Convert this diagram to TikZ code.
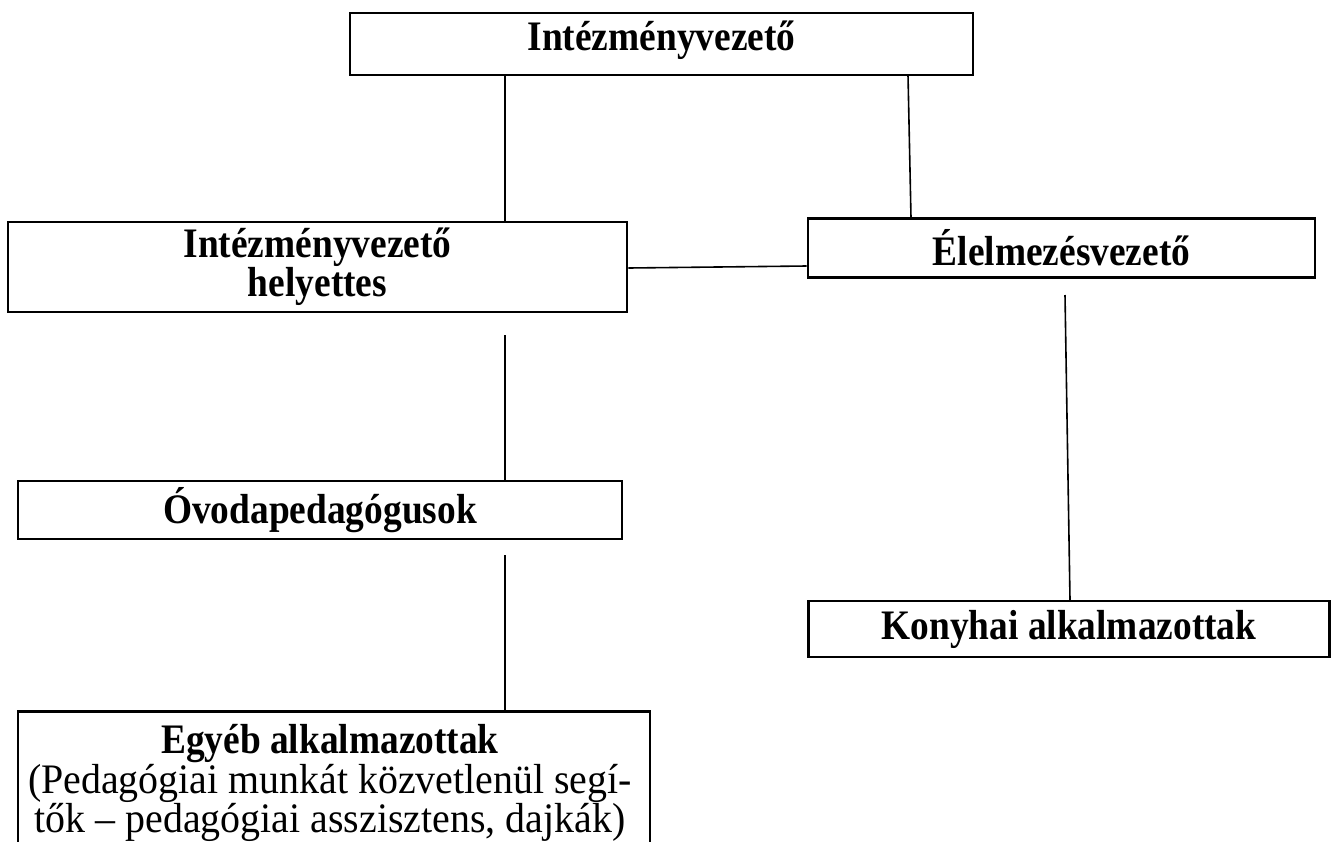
\documentclass[tikz,border=0pt]{standalone}
\usepackage{fontspec}
\setmainfont{Liberation Serif}
\newfontfamily\boldcond[FakeStretch=0.89]{Liberation Serif}
\newfontfamily\regcond[FakeStretch=0.95]{Liberation Serif}
\begin{document}
\begin{tikzpicture}[x=1pt,y=-1pt,
  orgbox/.style={draw, line width=2.8pt, rectangle, inner sep=0pt, align=center,
    font=\boldcond\fontsize{42}{36}\selectfont\bfseries},
  conn/.style={line width=1.6pt},
  plain/.style={inner sep=0pt, align=center, font=\regcond\fontsize{42}{35.5}\selectfont}]
\clip (0,0) rectangle (1335,841);
\fill[white] (0,0) rectangle (1335,841);
% boxes
\node[orgbox, minimum width=623pt, minimum height=62pt] (top) at (661.5,44) {};
\node[orgbox, draw=none] (toptext) at (661.5,40) {Intézményvezető};
\node[orgbox, minimum width=619pt, minimum height=90pt] (hely) at (317.5,267) {Intézményvezető\\helyettes};
\node[orgbox, minimum width=507pt, minimum height=59pt] (elel) at (1061.5,248) {Élelmezésvezető};
\node[orgbox, minimum width=604pt, minimum height=58pt] (ovoda) at (320,510) {Óvodapedagógusok};
\node[orgbox, minimum width=521pt, minimum height=56pt] (konyha) at (1069,629) {Konyhai alkalmazottak};
\node[orgbox, anchor=north, minimum width=632pt, minimum height=170pt] (egyeb) at (334,710) {};
\node[plain] (egyebtext) at (330,783) {{\boldcond\fontsize{42}{35.5}\selectfont\bfseries Egyéb alkalmazottak}\\(Pedagógiai munkát közvetlenül segí-\\tők – pedagógiai asszisztens, dajkák)};
% connector free ends
\coordinate (c1) at (505,335);
\coordinate (c2) at (505,555);
\coordinate (c3) at (1065,295);
% connectors
\draw[conn] (505,75) coordinate (t1) -- (hely.north -| t1);
\draw[conn] (908,75) coordinate (t2) -- (911,218) coordinate (t3);
\draw[conn] (hely.east |- 0,268) coordinate (h1) -- (elel.west |- 0,266);
\draw[conn] (c1) -- (ovoda.north -| c1);
\draw[conn] (c2) -- (egyeb.north -| c2);
\draw[conn] (c3) -- (1070,600) coordinate (k1);
\end{tikzpicture}
\end{document}
